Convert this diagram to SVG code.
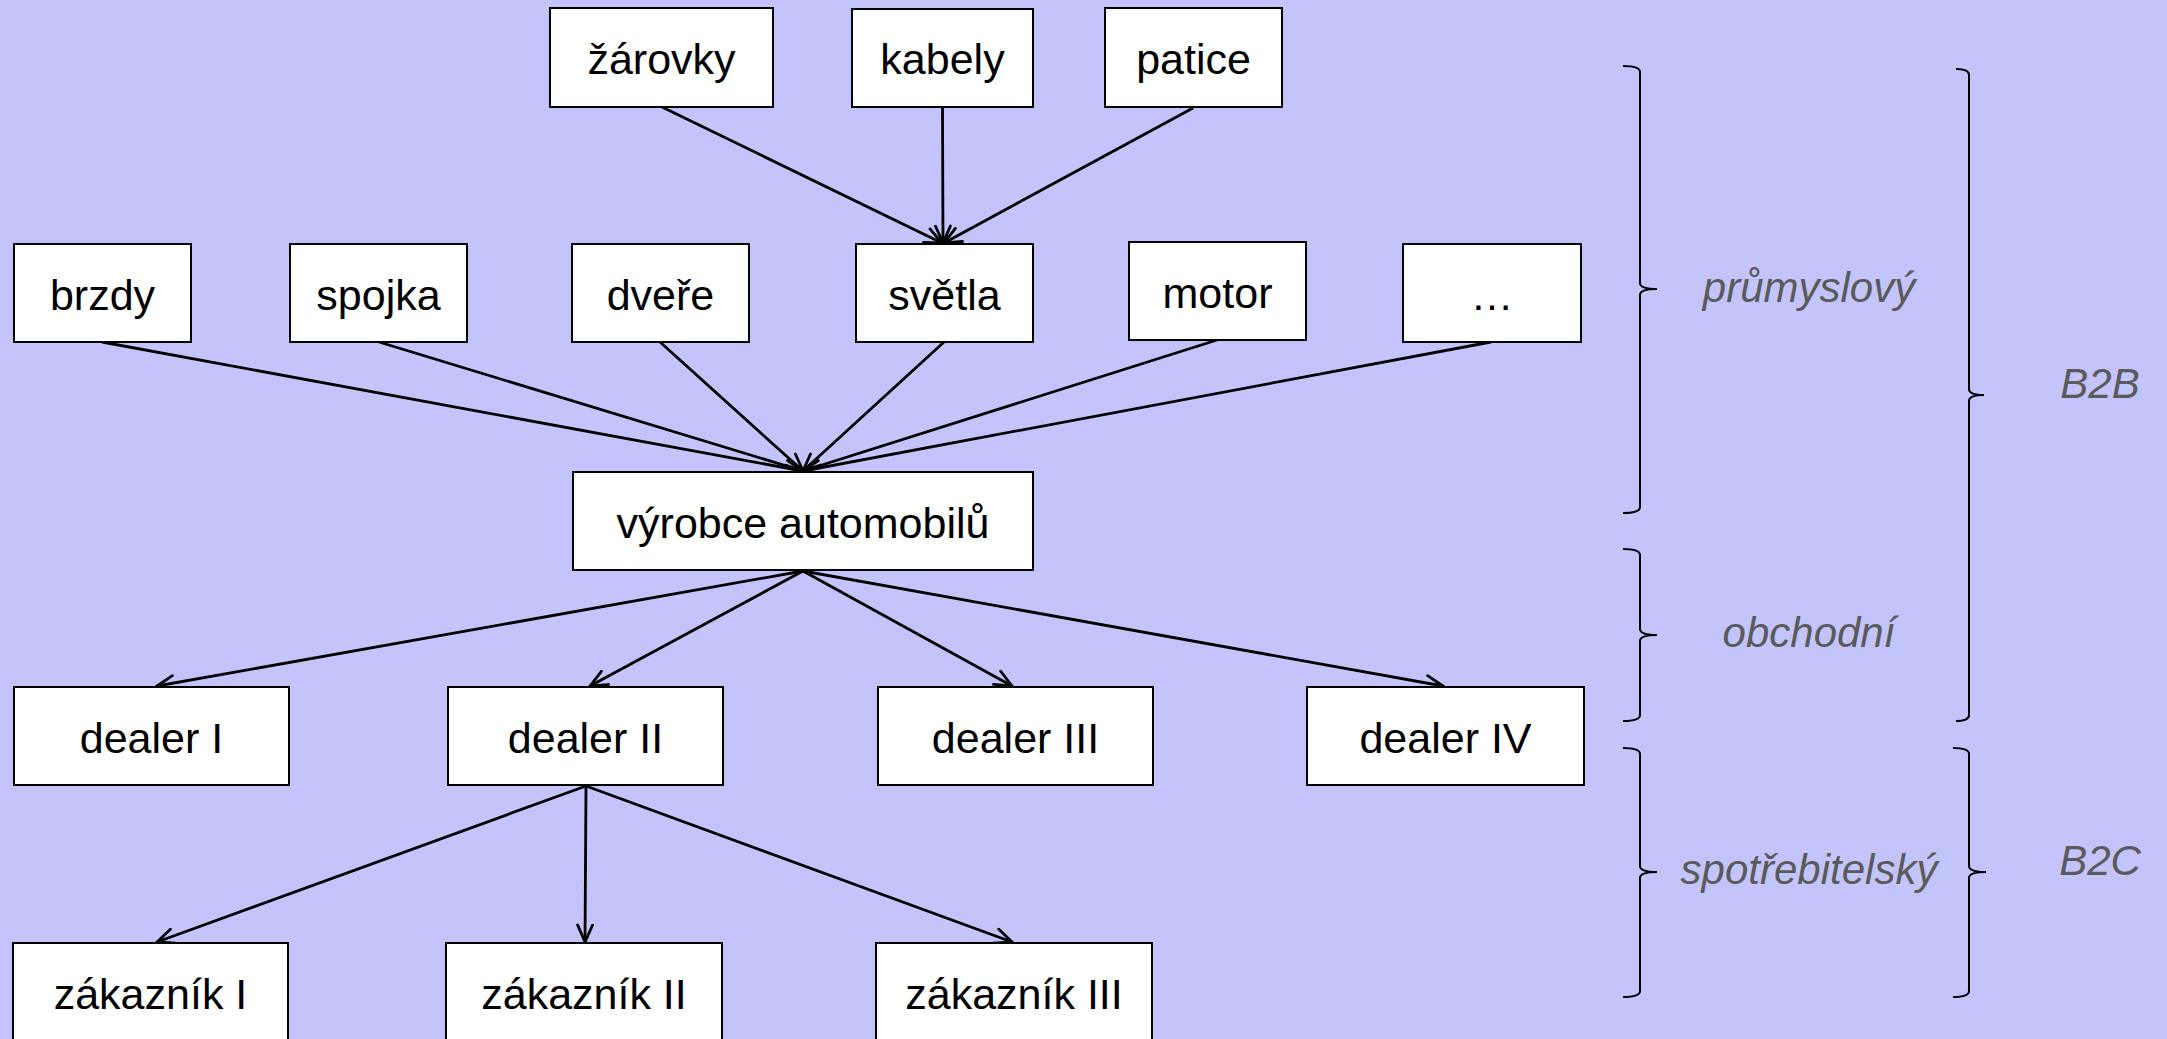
<svg xmlns="http://www.w3.org/2000/svg" width="2167" height="1039" viewBox="0 0 2167 1039">
  <style>
    .box { fill: #ffffff; stroke: #000000; stroke-width: 2; }
    .lbl { font-family: "Liberation Sans", Arial, sans-serif; font-size: 43px; fill: #000000; text-anchor: middle; }
    .edge { fill: none; stroke: #000000; stroke-width: 2.8; marker-end: url(#arrow); }
    .brace { fill: none; stroke: #000000; stroke-width: 2; }
    .side { font-family: "Liberation Sans", Arial, sans-serif; font-size: 42px; font-style: italic; fill: #5a5a5a; text-anchor: middle; }
  </style>
  <defs>
    <marker id="arrow" viewBox="0 0 20 18" refX="18.5" refY="9" markerWidth="20" markerHeight="18" markerUnits="userSpaceOnUse" orient="auto">
      <path d="M1.5,1.5 L18.5,9 L1.5,16.5" fill="none" stroke="#000000" stroke-width="2.8" stroke-linecap="round" stroke-linejoin="miter"/>
    </marker>
  </defs>

  <rect x="0" y="0" width="2167" height="1039" fill="#c4c4fd"/>

  <!-- connectors -->
  <g id="connectors">
    <line class="edge" x1="662" y1="107" x2="942" y2="243"/>
    <line class="edge" x1="942.5" y1="107" x2="943" y2="243"/>
    <line class="edge" x1="1193" y1="108" x2="944" y2="243"/>

    <line class="edge" x1="102" y1="342" x2="803" y2="471"/>
    <line class="edge" x1="379" y1="342" x2="803" y2="471"/>
    <line class="edge" x1="660" y1="342" x2="803" y2="471"/>
    <line class="edge" x1="944" y1="342" x2="803" y2="471"/>
    <line class="edge" x1="1217" y1="340" x2="803" y2="471"/>
    <line class="edge" x1="1491" y1="342" x2="803" y2="471"/>

    <line class="edge" x1="803" y1="571" x2="157" y2="686"/>
    <line class="edge" x1="803" y1="571" x2="590" y2="686"/>
    <line class="edge" x1="803" y1="571" x2="1012" y2="686"/>
    <line class="edge" x1="803" y1="571" x2="1443" y2="686"/>

    <line class="edge" x1="586" y1="786" x2="157" y2="942"/>
    <line class="edge" x1="586" y1="786" x2="585" y2="942"/>
    <line class="edge" x1="586" y1="786" x2="1012" y2="942"/>
  </g>

  <!-- component suppliers of the lights -->
  <g id="zarovky"><rect class="box" x="550" y="8" width="223" height="99"/><text class="lbl" x="661.5" y="74">žárovky</text></g>
  <g id="kabely"><rect class="box" x="852" y="9" width="181" height="98"/><text class="lbl" x="942.5" y="74">kabely</text></g>
  <g id="patice"><rect class="box" x="1105" y="8" width="177" height="99"/><text class="lbl" x="1193.5" y="74">patice</text></g>

  <!-- part suppliers -->
  <g id="brzdy"><rect class="box" x="14" y="244" width="177" height="98"/><text class="lbl" x="102.5" y="310">brzdy</text></g>
  <g id="spojka"><rect class="box" x="290" y="244" width="177" height="98"/><text class="lbl" x="378.5" y="310">spojka</text></g>
  <g id="dvere"><rect class="box" x="572" y="244" width="177" height="98"/><text class="lbl" x="660.5" y="310">dveře</text></g>
  <g id="svetla"><rect class="box" x="856" y="244" width="177" height="98"/><text class="lbl" x="944.5" y="310">světla</text></g>
  <g id="motor"><rect class="box" x="1129" y="242" width="177" height="98"/><text class="lbl" x="1217.5" y="308">motor</text></g>
  <g id="dalsi"><rect class="box" x="1403" y="244" width="178" height="98"/><text class="lbl" x="1492" y="310">…</text></g>

  <!-- manufacturer -->
  <g id="vyrobce"><rect class="box" x="573" y="472" width="460" height="98"/><text class="lbl" x="803" y="538">výrobce automobilů</text></g>

  <!-- dealers -->
  <g id="dealer1"><rect class="box" x="14" y="687" width="275" height="98"/><text class="lbl" x="151.5" y="753">dealer I</text></g>
  <g id="dealer2"><rect class="box" x="448" y="687" width="275" height="98"/><text class="lbl" x="585.5" y="753">dealer II</text></g>
  <g id="dealer3"><rect class="box" x="878" y="687" width="275" height="98"/><text class="lbl" x="1015.5" y="753">dealer III</text></g>
  <g id="dealer4"><rect class="box" x="1307" y="687" width="277" height="98"/><text class="lbl" x="1445.5" y="753">dealer IV</text></g>

  <!-- customers -->
  <g id="zakaznik1"><rect class="box" x="13" y="943" width="275" height="110"/><text class="lbl" x="150.5" y="1009">zákazník I</text></g>
  <g id="zakaznik2"><rect class="box" x="446" y="943" width="276" height="110"/><text class="lbl" x="584" y="1009">zákazník II</text></g>
  <g id="zakaznik3"><rect class="box" x="876" y="943" width="276" height="110"/><text class="lbl" x="1014" y="1009">zákazník III</text></g>

  <!-- market braces -->
  <g id="brace-prumyslovy">
    <path class="brace" d="M1623,66 Q1640,66 1640,72 L1640,283 Q1640,289 1657,289 Q1640,289 1640,295 L1640,507 Q1640,513 1623,513"/>
    <text class="side" x="1809" y="302">průmyslový</text>
  </g>
  <g id="brace-obchodni">
    <path class="brace" d="M1623,549 Q1640,549 1640,555 L1640,629 Q1640,635 1657,635 Q1640,635 1640,641 L1640,715 Q1640,721 1623,721"/>
    <text class="side" x="1809" y="647">obchodní</text>
  </g>
  <g id="brace-spotrebitelsky">
    <path class="brace" d="M1623,748 Q1640,748 1640,754 L1640,866 Q1640,872 1657,872 Q1640,872 1640,878 L1640,991 Q1640,997 1623,997"/>
    <text class="side" x="1809" y="884">spotřebitelský</text>
  </g>
  <g id="brace-b2b">
    <path class="brace" d="M1956,69 Q1969,69 1969,75 L1969,389 Q1969,395 1984,395 Q1969,395 1969,401 L1969,715 Q1969,721 1956,721"/>
    <text class="side" x="2100" y="398">B2B</text>
  </g>
  <g id="brace-b2c">
    <path class="brace" d="M1953,748 Q1969,748 1969,754 L1969,866 Q1969,872 1986,872 Q1969,872 1969,878 L1969,991 Q1969,997 1953,997"/>
    <text class="side" x="2100" y="875">B2C</text>
  </g>
</svg>
